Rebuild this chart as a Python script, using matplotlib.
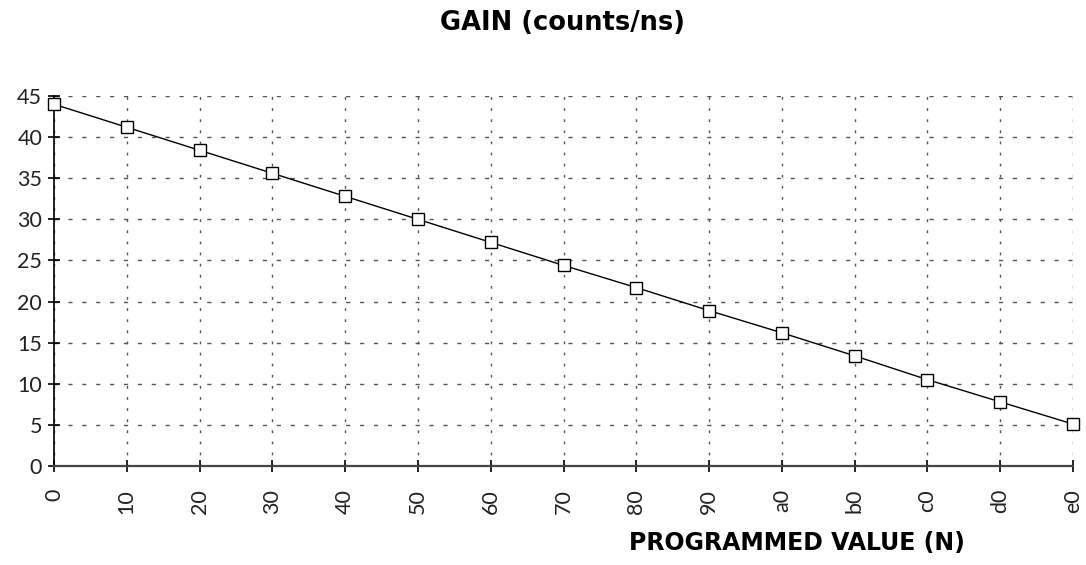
import matplotlib
matplotlib.use("Agg")
import matplotlib.pyplot as plt

categories = ["0", "10", "20", "30", "40", "50", "60", "70", "80", "90", "a0", "b0", "c0", "d0", "e0"]
gain = [44.0, 41.2, 38.4, 35.6, 32.8, 30.0, 27.2, 24.4, 21.7, 18.9, 16.2, 13.4, 10.5, 7.8, 5.1]
y_ticks = [0, 5, 10, 15, 20, 25, 30, 35, 40, 45]

plt.rcParams['font.family'] = ['Lato', 'DejaVu Sans']

fig = plt.figure(figsize=(10.86, 5.65), dpi=100)
ax = fig.add_axes([54/1086, 1 - 466/565, (1073-54)/1086, (466-96)/565])

x = list(range(len(categories)))
ax.plot(x, gain, color='black', linewidth=1.0, marker='s', markersize=9,
        markerfacecolor='white', markeredgecolor='black', markeredgewidth=1.0, zorder=3, clip_on=False)

ax.set_xlim(0, len(categories) - 1)
ax.set_ylim(0, 45)
ax.set_xticks(x)
ax.set_xticklabels(categories, rotation=90, fontsize=15.5)
ax.set_yticks(y_ticks)
ax.set_yticklabels([str(v) for v in y_ticks], fontsize=15.5)

ax.yaxis.grid(True, color='#555555', linestyle=(0, (3, 7)), linewidth=1.0)
ax.xaxis.grid(True, color='#555555', linestyle=(0, (2, 6)), linewidth=1.0)
ax.set_axisbelow(True)

for s in ['top', 'right']:
    ax.spines[s].set_visible(False)
ax.spines['left'].set_linewidth(1.2)
ax.spines['bottom'].set_linewidth(1.6)
ax.spines['bottom'].set_color('#444444')
ax.tick_params(axis='both', direction='inout', length=9, width=1.2, colors='black', labelcolor='#222222')
ax.tick_params(axis='x', pad=12)
ax.tick_params(axis='y', pad=4)

fig.text(563/1086, 1 - 23/565, "GAIN (counts/ns)", ha='center', va='center', fontsize=18.5, fontweight='bold',
         family=['DejaVu Sans'])
fig.text(797/1086, 1 - 543/565, "PROGRAMMED VALUE (N)", ha='center', va='center', fontsize=17, fontweight='bold',
         family=['DejaVu Sans'])

fig.savefig("out.png", dpi=100)
